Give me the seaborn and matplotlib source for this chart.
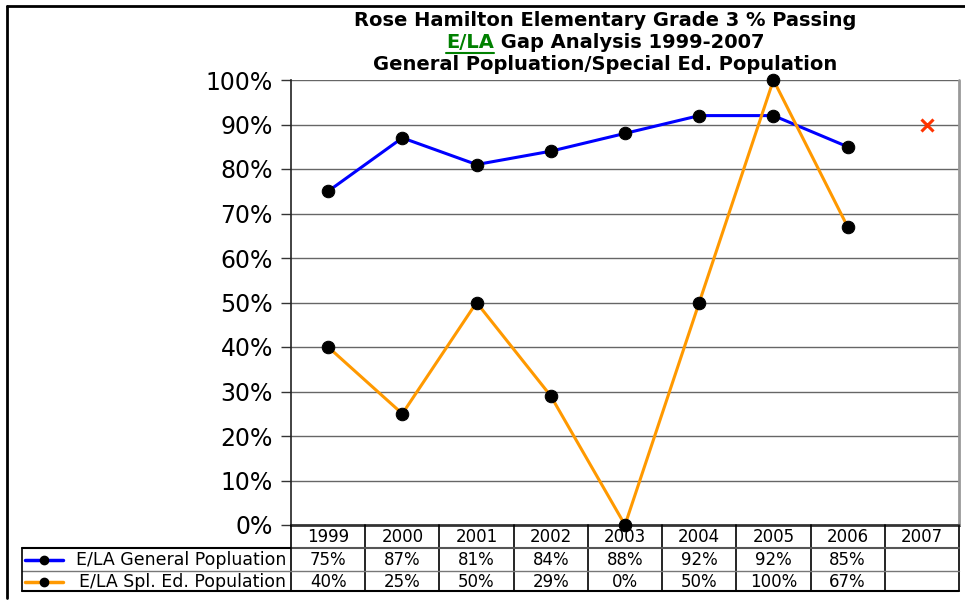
import matplotlib
matplotlib.use("Agg")
import matplotlib.pyplot as plt
import matplotlib.transforms as mtransforms
from matplotlib.lines import Line2D
import seaborn as sns
import pandas as pd

# данные с графика
years = ['1999', '2000', '2001', '2002', '2003', '2004', '2005', '2006', '2007']
general = [75, 87, 81, 84, 88, 92, 92, 85, None]
special = [40, 25, 50, 29, 0, 50, 100, 67, None]
goal_2007 = 90
series_names = ['E/LA General Popluation', 'E/LA Spl. Ed. Population']
series_colors = ['#0000FF', '#FF9900']
yticks = [0, 10, 20, 30, 40, 50, 60, 70, 80, 90, 100]

sns.set_style("white")
plt.rcParams['font.family'] = ['DejaVu Sans']
plt.rcParams['text.color'] = 'black'
plt.rcParams['ytick.color'] = 'black'
plt.rcParams['ytick.labelcolor'] = 'black'

W, H = 965, 603
fig = plt.figure(figsize=(W / 100, H / 100), dpi=100)


def fx(px):
    return px / W


def fy(py):
    return 1 - py / H


ax = fig.add_axes([fx(291), fy(525), fx(959) - fx(291), fy(80) - fy(525)])

pos = list(range(len(years)))
df = pd.DataFrame({'pos': pos, 'general': general, 'special': special})

for col, name, color in zip(['general', 'special'], series_names, series_colors):
    d = df.dropna(subset=[col])
    sns.lineplot(data=d, x='pos', y=col, ax=ax, color=color, linewidth=2.2,
                 marker='o', markersize=9, markerfacecolor='black',
                 markeredgecolor='black', clip_on=False, zorder=3)

# цель на 2007
ax.plot([pos[-1] + 0.07], [goal_2007], marker='x', color='#FF3300',
        markersize=9, markeredgewidth=2.2, linestyle='none', clip_on=False, zorder=4)

ax.set_xlim(-0.5, len(years) - 0.5)
ax.set_ylim(0, 100)
ax.set_yticks(yticks)
ax.set_yticklabels([f'{v}%' for v in yticks], fontsize=17)
ax.set_xticks([])
ax.set_xlabel('')
ax.set_ylabel('')
ax.tick_params(axis='y', direction='out', length=7, width=1, color='#333333', pad=6, left=True)
for v in yticks[1:]:
    ax.axhline(v, color='#666666', linewidth=1, zorder=1)
for side in ['top', 'right']:
    ax.spines[side].set_visible(False)
ax.spines['left'].set_color('#222222')
ax.spines['left'].set_linewidth(1.2)
ax.spines['bottom'].set_color('#333333')
ax.spines['bottom'].set_linewidth(2)
fig.add_artist(Line2D([fx(959), fx(959)], [fy(80), fy(525)], color='#999999', linewidth=2))

# таблица под графиком
tr = mtransforms.blended_transform_factory(ax.transData, fig.transFigure)
x_left, x_right = -0.5, len(years) - 0.5
for k in range(len(years) + 1):
    x = -0.5 + k
    fig.add_artist(Line2D([x, x], [fy(525), fy(591)], color='black', linewidth=1.2, transform=tr))
fig.add_artist(Line2D([x_left, x_right], [fy(548), fy(548)], color='#555555', linewidth=1.5, transform=tr))
fig.add_artist(Line2D([x_left, x_right], [fy(571), fy(571)], color='#777777', linewidth=1, transform=tr))
fig.add_artist(Line2D([x_left, x_right], [fy(591), fy(591)], color='black', linewidth=1.5, transform=tr))
fig.add_artist(Line2D([fx(22), fx(291)], [fy(548), fy(548)], color='black', linewidth=1.5))
fig.add_artist(Line2D([fx(22), fx(291)], [fy(571), fy(571)], color='#777777', linewidth=1))
fig.add_artist(Line2D([fx(22), fx(291)], [fy(591), fy(591)], color='black', linewidth=1.5))
fig.add_artist(Line2D([fx(22), fx(22)], [fy(548), fy(591)], color='black', linewidth=1.2))

for p, yr in zip(pos, years):
    fig.text(p, fy(537), yr, transform=tr, ha='center', va='center', fontsize=12)
for p, g, s in zip(pos, general, special):
    if g is not None:
        fig.text(p, fy(560), f'{g}%', transform=tr, ha='center', va='center', fontsize=12)
    if s is not None:
        fig.text(p, fy(582), f'{s}%', transform=tr, ha='center', va='center', fontsize=12)

for yc, name, color in zip([560, 582], series_names, series_colors):
    fig.add_artist(Line2D([fx(25), fx(63)], [fy(yc), fy(yc)], color=color, linewidth=2.5))
    fig.add_artist(Line2D([fx(44)], [fy(yc)], marker='o', markersize=6, color='black'))
    fig.text(fx(286), fy(yc), name, ha='right', va='center', fontsize=12.5)

# рамка
fig.add_artist(Line2D([fx(7), fx(965)], [fy(6), fy(6)], color='black', linewidth=2))
fig.add_artist(Line2D([fx(7), fx(7)], [fy(6), fy(598)], color='black', linewidth=2))

# заголовок
cx = fx(605)
fig.text(cx, fy(20), 'Rose Hamilton Elementary Grade 3 % Passing', ha='center', va='center',
         fontsize=14, fontweight='bold')
fig.text(cx, fy(65), 'General Popluation/Special Ed. Population', ha='center', va='center',
         fontsize=14, fontweight='bold')

renderer = fig.canvas.get_renderer()
part_a = 'E/LA'
part_b = ' Gap Analysis 1999-2007'
ta = fig.text(0, fy(43), part_a, ha='left', va='center', fontsize=14, fontweight='bold', color='#008000')
tb = fig.text(0, fy(43), part_b, ha='left', va='center', fontsize=14, fontweight='bold')
wa = ta.get_window_extent(renderer).width
wb = tb.get_window_extent(renderer).width
start = 605 - (wa + wb) / 2
ta.set_x(fx(start))
tb.set_x(fx(start + wa))
fig.add_artist(Line2D([fx(start), fx(start + wa)], [fy(53), fy(53)], color='#008000', linewidth=1.5))

plt.savefig('out.png', dpi=100)
